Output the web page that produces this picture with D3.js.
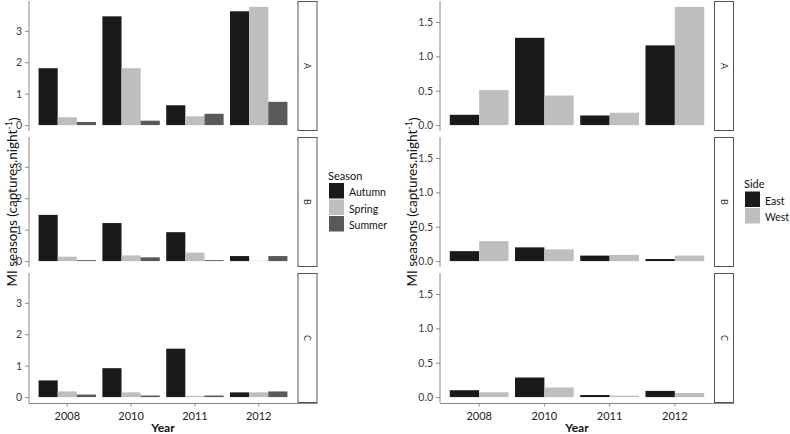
<!DOCTYPE html>
<html>
<head>
<meta charset="utf-8">
<script src="https://cdn.jsdelivr.net/npm/d3@7"></script>
<style>
  html, body { margin: 0; padding: 0; background: #fff; }
  svg { display: block; font-family: Lato, "Open Sans", sans-serif; }
</style>
</head>
<body>
<svg id="chart" width="790" height="434"></svg>
<script>
// ---------- data ----------
const years = ["2008", "2010", "2011", "2012"];
const facets = ["A", "B", "C"];
const seasons = ["Autumn", "Spring", "Summer"];
const sides = ["East", "West"];

// Season chart (left)
const autumnA = [1.81, 3.46, 0.63, 3.62];
const springA = [0.25, 1.81, 0.28, 3.76];
const summerA = [0.10, 0.14, 0.36, 0.74];
const autumnB = [1.47, 1.21, 0.92, 0.16];
const springB = [0.14, 0.18, 0.27, 0.01];
const summerB = [0.03, 0.12, 0.03, 0.16];
const autumnC = [0.53, 0.92, 1.54, 0.15];
const springC = [0.18, 0.15, 0.04, 0.15];
const summerC = [0.08, 0.05, 0.05, 0.18];

// Side chart (right)
const eastA = [0.15, 1.27, 0.14, 1.16];
const westA = [0.51, 0.43, 0.18, 1.72];
const eastB = [0.145, 0.20, 0.08, 0.03];
const westB = [0.29, 0.17, 0.09, 0.08];
const eastC = [0.10, 0.285, 0.03, 0.09];
const westC = [0.07, 0.14, 0.02, 0.06];

const leftTicks = [0, 1, 2, 3];
const rightTicks = [0, 0.5, 1.0, 1.5];

const seasonColors = ["#1a1a1a", "#bebebe", "#595959"];
const sideColors = ["#1a1a1a", "#bebebe"];

// ---------- layout ----------
const svg = d3.select("#chart");
const panelTops = [1, 137, 273];
const panelH = 130;
const bottom = panelTops[2] + panelH;

function drawChart(cfg) {
  const g = svg.append("g");
  const x = d3.scaleBand().domain(years).range([cfg.x0, cfg.x1])
    .paddingInner(0.1).paddingOuter(0.15);
  const xs = d3.scaleBand().domain(cfg.series).range([0, x.bandwidth()]).padding(0);
  const allVals = cfg.data.flat(2);
  const maxV = d3.max(allVals);
  const y0 = d3.scaleLinear().domain([-0.05 * maxV, maxV * 1.05]);

  facets.forEach((f, fi) => {
    const top = panelTops[fi];
    const y = y0.copy().range([top + panelH, top]);
    const pg = g.append("g");
    // bars
    cfg.series.forEach((s, si) => {
      pg.selectAll(null).data(cfg.data[fi][si]).enter().append("rect")
        .attr("x", (d, i) => x(years[i]) + xs(s))
        .attr("width", xs.bandwidth())
        .attr("y", d => y(Math.max(0, d)))
        .attr("height", d => Math.abs(y(0) - y(d)))
        .attr("fill", cfg.colors[si]);
    });
    // y axis
    const ax = pg.append("g").attr("transform", `translate(${cfg.x0},0)`)
      .call(d3.axisLeft(y).tickValues(cfg.ticks).tickFormat(cfg.fmt).tickSize(4).tickPadding(3));
    ax.select(".domain").attr("stroke", "#8a8a8a").attr("d", `M0,${top}V${top + panelH}`);
    ax.selectAll(".tick line").attr("stroke", "#8a8a8a");
    ax.selectAll(".tick text").attr("fill", "#3a3a3a").style("font-size", "10.5px")
      .style("font-family", "Lato, sans-serif");
    // strip
    pg.append("rect").attr("x", cfg.stripX + 0.5).attr("y", top + 0.5)
      .attr("width", cfg.stripW).attr("height", panelH - 1)
      .attr("fill", "#fff").attr("stroke", "#555").attr("stroke-width", 1);
    const cx = cfg.stripX + 0.5 + cfg.stripW / 2, cy = top + panelH / 2;
    pg.append("text").attr("transform", `translate(${cx},${cy}) rotate(90)`)
      .attr("text-anchor", "middle").attr("dominant-baseline", "central")
      .attr("fill", "#333").style("font-size", "9px").text(f);
  });

  // x axis
  const xa = g.append("g").attr("transform", `translate(0,${bottom + 0.5})`)
    .call(d3.axisBottom(x).tickSize(3).tickPadding(6));
  xa.select(".domain").attr("stroke", "#8a8a8a")
    .attr("d", `M${cfg.x0},0H${cfg.stripX + cfg.stripW + 1}`);
  xa.selectAll(".tick line").attr("stroke", "#8a8a8a");
  xa.selectAll(".tick text").attr("fill", "#222").style("font-size", "11px")
    .style("font-family", "Lato, sans-serif");

  // x title
  g.append("text").attr("x", (cfg.x0 + cfg.x1) / 2).attr("y", 432)
    .attr("text-anchor", "middle").style("font-size", "12px").style("font-weight", "bold")
    .attr("fill", "#111").text("Year");

  // y title
  const yt = g.append("text")
    .attr("transform", `translate(${cfg.yTitleX},${(panelTops[0] + bottom) / 2}) rotate(-90)`)
    .attr("text-anchor", "middle").attr("dominant-baseline", "central")
    .style("font-size", "13.5px").attr("fill", "#111");
  yt.append("tspan").text("MI seasons (captures.night");
  yt.append("tspan").attr("dy", "-0.45em").style("font-size", "9px").text("-1");
  yt.append("tspan").attr("dy", "0.45em").text(")");

  // legend
  const lg = g.append("g");
  lg.append("text").attr("x", cfg.legX - 1).attr("y", cfg.legY - 8)
    .attr("dominant-baseline", "central").style("font-size", "11px").attr("fill", "#111")
    .text(cfg.legTitle);
  cfg.series.forEach((s, si) => {
    lg.append("rect").attr("x", cfg.legX).attr("y", cfg.legY + si * 16.5)
      .attr("width", 15).attr("height", 15.5).attr("fill", cfg.colors[si]);
    lg.append("text").attr("x", cfg.legX + 20).attr("y", cfg.legY + si * 16.5 + 9)
      .attr("dominant-baseline", "central").style("font-size", "10.5px").attr("fill", "#111")
      .text(s);
  });
}

drawChart({
  x0: 29, x1: 297, stripX: 297.5, stripW: 19,
  series: seasons, colors: seasonColors,
  data: [[autumnA, springA, summerA], [autumnB, springB, summerB], [autumnC, springC, summerC]],
  ticks: leftTicks, fmt: d3.format("d"),
  yTitleX: 12, legX: 329, legY: 183, legTitle: "Season"
});

drawChart({
  x0: 440, x1: 714, stripX: 714, stripW: 19,
  series: sides, colors: sideColors,
  data: [[eastA, westA], [eastB, westB], [eastC, westC]],
  ticks: rightTicks, fmt: d3.format(".1f"),
  yTitleX: 412, legX: 745, legY: 191.5, legTitle: "Side"
});
</script>
</body>
</html>
